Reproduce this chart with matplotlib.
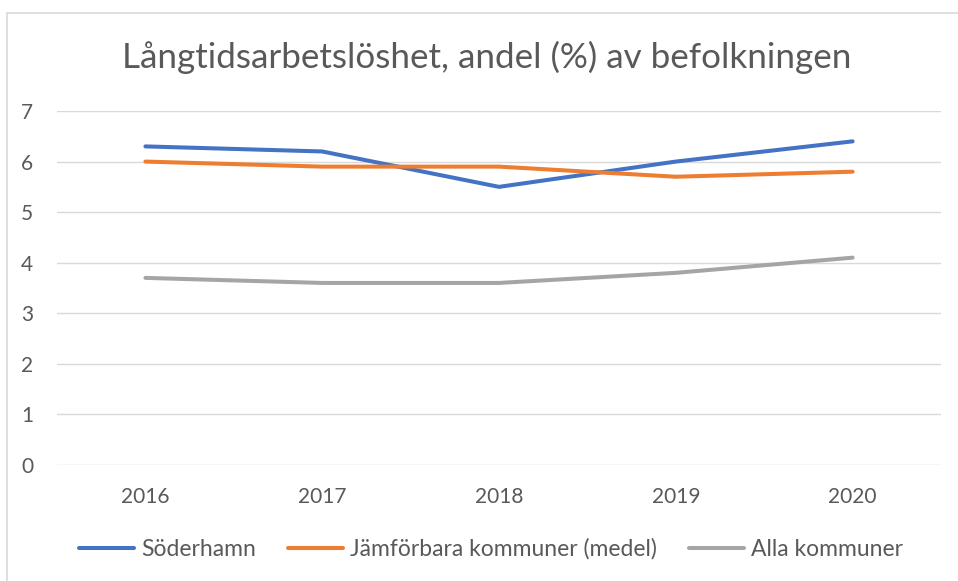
import matplotlib.pyplot as plt
from matplotlib.patches import Rectangle

# data
years = ["2016", "2017", "2018", "2019", "2020"]
soderhamn = [6.3, 6.2, 5.5, 6.0, 6.4]
jamforbara = [6.0, 5.9, 5.9, 5.7, 5.8]
alla = [3.7, 3.6, 3.6, 3.8, 4.1]
series_names = ["Söderhamn", "Jämförbara kommuner (medel)", "Alla kommuner"]
yticks = [0, 1, 2, 3, 4, 5, 6, 7]

txt = "#595959"
plt.rcParams['font.family'] = ['Lato', 'DejaVu Sans']

W, H = 958, 581
fig = plt.figure(figsize=(W / 100, H / 100), dpi=100)
ax = fig.add_axes([57 / W, 1 - 465 / H, (941 - 57) / W, (465 - 111) / H])

# chart border (only left/top visible in the screenshot)
fig.patches.append(Rectangle((7 / W, -0.05), 1.2, 1 - 13 / H + 0.05,
                             transform=fig.transFigure, fill=False,
                             edgecolor="#d9d9d9", linewidth=1.2))

x = range(len(years))
ax.plot(x, soderhamn, color="#4472c4", lw=2.9, solid_capstyle="round", label=series_names[0], zorder=3)
ax.plot(x, jamforbara, color="#ed7d31", lw=2.9, solid_capstyle="round", label=series_names[1], zorder=3)
ax.plot(x, alla, color="#a5a5a5", lw=2.9, solid_capstyle="round", label=series_names[2], zorder=3)

ax.set_xlim(-0.5, len(years) - 0.5)
ax.set_ylim(0, 7)
ax.set_yticks(yticks)
ax.set_xticks(list(x))
ax.set_xticklabels(years)
ax.grid(axis="y", color="#d9d9d9", lw=1)
ax.set_axisbelow(True)
for s in ax.spines.values():
    s.set_visible(False)
ax.tick_params(length=0, colors=txt, labelsize=15)
ax.tick_params(axis="x", pad=16)
ax.tick_params(axis="y", pad=17)

fig.text(487 / W, 1 - 57 / H, "Långtidsarbetslöshet, andel (%) av befolkningen",
         ha="center", va="center", fontsize=25.2, color=txt)

leg = fig.legend(loc="center", bbox_to_anchor=(491 / W, 1 - 549 / H), ncol=3,
                 frameon=False, fontsize=16.5, handlelength=2.4, columnspacing=1.4,
                 handletextpad=0.3)
for t in leg.get_texts():
    t.set_color(txt)

fig.savefig("out.png", dpi=100)
